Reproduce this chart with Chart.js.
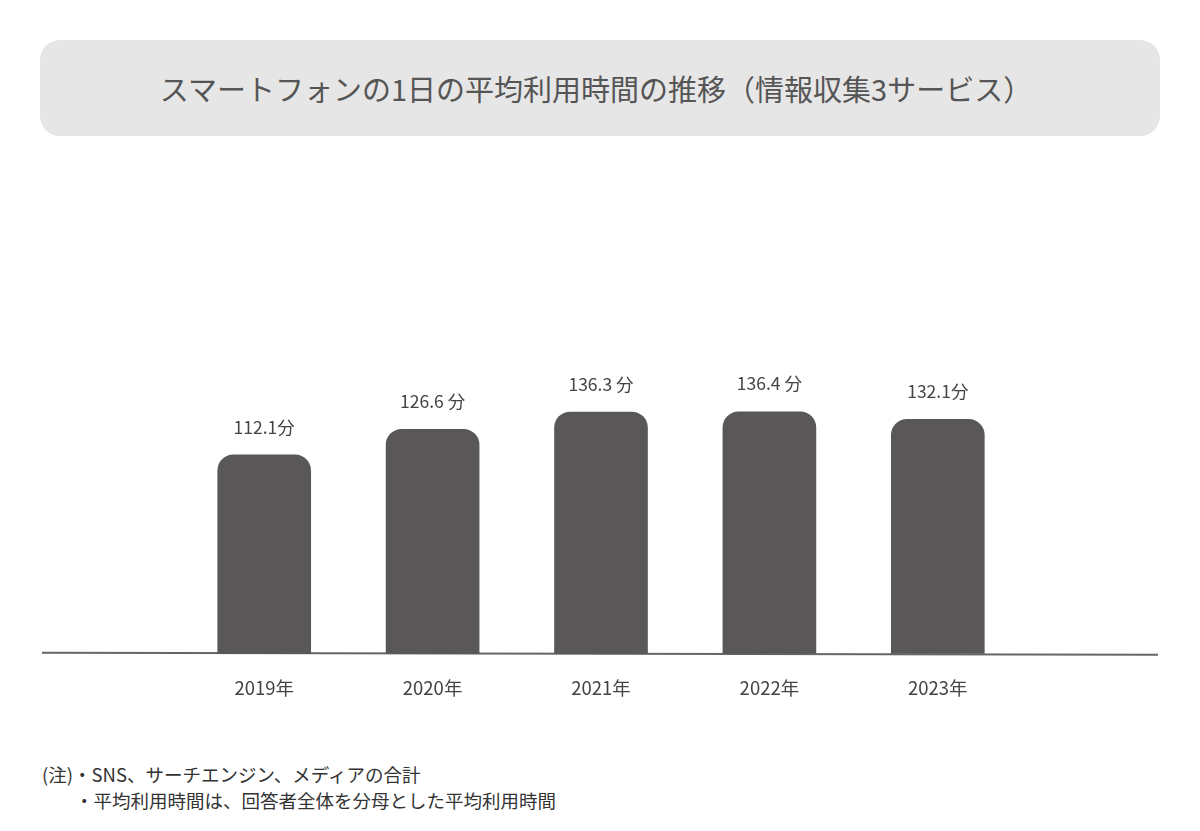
<!DOCTYPE html>
<html lang="ja">
<head>
<meta charset="utf-8">
<title>スマートフォンの1日の平均利用時間の推移</title>
<script src="https://cdn.jsdelivr.net/npm/chart.js@4/dist/chart.umd.min.js"></script>
<style>
  body { margin: 0; background: #fff; font-family: "Noto Sans CJK JP", "Noto Sans", sans-serif; }
  .page { position: relative; width: 1200px; height: 831px; overflow: hidden; }
  .title-box {
    position: absolute; left: 40px; top: 40px; width: 1120px; height: 96px;
    background: #e6e6e6; border-radius: 20px;
    display: flex; align-items: center; justify-content: center;
  }
  .title-box h1 { margin: 0 0 0 -8px; font-size: 29px; font-weight: 400; color: #555; letter-spacing: 0; }
  .chart-wrap { position: absolute; left: 0; top: 0; width: 1200px; height: 744px; }
  .notes { position: absolute; left: 42px; top: 761px; font-size: 18.5px; color: #333; line-height: 26px; }
  .notes .indent { padding-left: 33px; }
</style>
</head>
<body>
<div class="page">
  <div class="chart-wrap"><canvas id="barChart" width="1200" height="744"></canvas></div>
  <div class="title-box"><h1>スマートフォンの1日の平均利用時間の推移（情報収集3サービス）</h1></div>
  <div class="notes">
    <div>(注)・SNS、サーチエンジン、メディアの合計</div>
    <div class="indent">・平均利用時間は、回答者全体を分母とした平均利用時間</div>
  </div>
</div>
<script>
// Chart data
const years = ["2019年", "2020年", "2021年", "2022年", "2023年"];
const minutes = [112.1, 126.6, 136.3, 136.4, 132.1];
const valueLabels = ["112.1分", "126.6 分", "136.3 分", "136.4 分", "132.1分"];

// Draw value labels above the bars
const valueLabelPlugin = {
  id: "valueLabels",
  afterDatasetsDraw(chart) {
    const ctx = chart.ctx;
    const meta = chart.getDatasetMeta(0);
    ctx.save();
    ctx.font = '400 17.5px "Noto Sans CJK JP"';
    ctx.fillStyle = "#444";
    ctx.textAlign = "center";
    ctx.textBaseline = "middle";
    meta.data.forEach((bar, i) => {
      ctx.fillText(valueLabels[i], bar.x, bar.y - 28);
    });
    ctx.restore();
  }
};

// Long baseline that runs past the bars on both sides
const baselinePlugin = {
  id: "baseline",
  beforeDatasetsDraw(chart) {
    const ctx = chart.ctx;
    const y = chart.scales.y.getPixelForValue(0);
    ctx.save();
    ctx.strokeStyle = "#666";
    ctx.lineWidth = 2;
    ctx.beginPath();
    ctx.moveTo(42, y - 1);
    ctx.lineTo(1158, y + 1);
    ctx.stroke();
    ctx.restore();
  }
};

document.addEventListener("DOMContentLoaded", function () {
  const ctx = document.getElementById("barChart").getContext("2d");
  new Chart(ctx, {
    type: "bar",
    data: {
      labels: years,
      datasets: [{
        data: minutes,
        backgroundColor: "#595757",
        borderRadius: 16,
        borderSkipped: "bottom",
        barThickness: 93
      }]
    },
    options: {
      responsive: false,
      animation: false,
      layout: { padding: { left: 180, right: 178, top: 299, bottom: 22 } },
      plugins: { legend: { display: false }, tooltip: { enabled: false } },
      scales: {
        x: {
          grid: { display: false, drawTicks: false },
          border: { display: false },
          ticks: {
            padding: 23,
            color: "#444",
            font: { family: "Noto Sans CJK JP", size: 18.5 }
          }
        },
        y: { display: false, min: 0, max: 200 }
      }
    },
    plugins: [valueLabelPlugin, baselinePlugin]
  });
});
</script>
</body>
</html>
